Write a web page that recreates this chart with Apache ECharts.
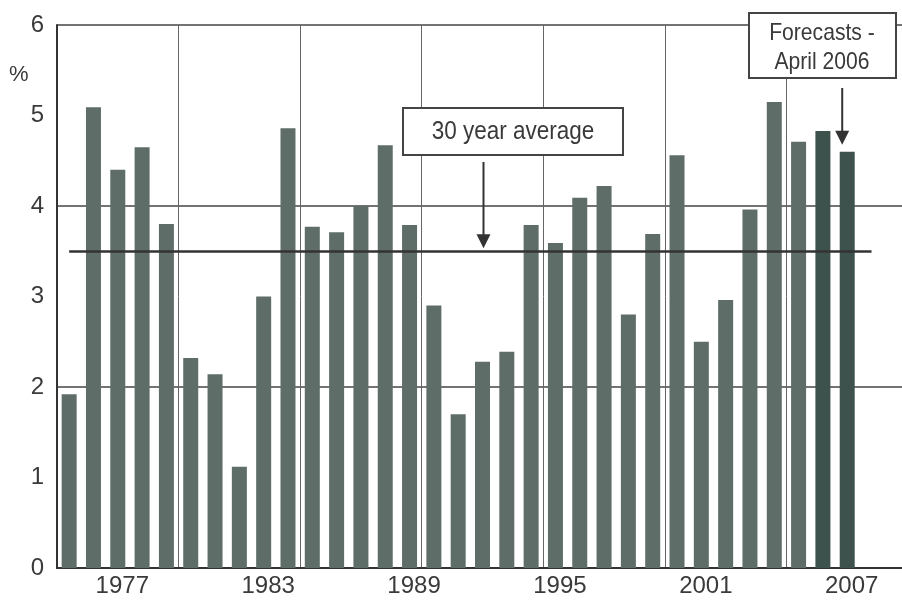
<!DOCTYPE html>
<html>
<head>
<meta charset="utf-8">
<script src="https://cdn.jsdelivr.net/npm/echarts@6/dist/echarts.min.js"></script>
<style>
html,body{margin:0;padding:0;background:#fff;overflow:hidden;}
#chart{width:908px;height:601px;}
</style>
</head>
<body>
<div id="chart"></div>
<script>
// ---- data ----
const years = ['1975','1976','1977','1978','1979','1980','1981','1982','1983','1984',
  '1985','1986','1987','1988','1989','1990','1991','1992','1993','1994',
  '1995','1996','1997','1998','1999','2000','2001','2002','2003','2004',
  '2005','2006','2007','2008','2009'];
const actualValues = [1.92,5.09,4.40,4.65,3.80,2.32,2.14,1.12,3.00,4.86,
  3.77,3.71,4.00,4.67,3.79,2.90,1.70,2.28,2.39,3.79,
  3.59,4.09,4.22,2.80,3.69,4.56,2.50,2.96,3.96,5.15,
  4.71,null,null,null,null];
const forecastValues = [null,null,null,null,null,null,null,null,null,null,
  null,null,null,null,null,null,null,null,null,null,
  null,null,null,null,null,null,null,null,null,null,
  null,4.83,4.60,null,null];
const shownYearLabels = ['1977','1983','1989','1995','2001','2007'];
const gridLineYears = ['1980','1985','1990','1995','2000','2005'];
const yTicks = [0,1,2,3,4,5,6];
const averageValue = 3.5;
const averageFrom = '1975', averageTo = '2008';
const averageArrowYear = '1992';
const forecastArrowYear = '2007';
const unitLabel = '%';
const avgLabel = '30 year average';
const forecastLabel = 'Forecasts -\nApril 2006';

const FONT = "'Liberation Sans Narrow','Arial Narrow','Liberation Sans',sans-serif";
const TXT = '#3a3a3a';
const chart = echarts.init(document.getElementById('chart'), null, {renderer:'canvas'});

const option = {
  animation:false,
  backgroundColor:'#fff',
  grid:{left:57, right:0, top:25, bottom:33, containLabel:false},
  xAxis:{
    type:'category', data:years, boundaryGap:true,
    axisLine:{show:true, lineStyle:{color:'#333', width:2}},
    axisTick:{show:false},
    axisLabel:{
      interval:(i, v)=>shownYearLabels.indexOf(v) >= 0,
      color:TXT, fontFamily:FONT, fontSize:24, margin:6, padding:[0,0,0,9]
    },
    splitLine:{show:true, interval:(i, v)=>gridLineYears.indexOf(v) >= 0,
      lineStyle:{color:'#666', width:1}}
  },
  yAxis:[{
    type:'value', min:yTicks[0], max:yTicks[yTicks.length-1], interval:1,
    axisLine:{show:true, lineStyle:{color:'#333', width:2}},
    axisTick:{show:false},
    axisLabel:{color:TXT, fontFamily:FONT, fontSize:24, margin:13, padding:[3,0,0,0]},
    splitLine:{show:false}
  },{
    type:'value', min:yTicks[0], max:yTicks[yTicks.length-1], interval:2,
    position:'left',
    axisLine:{show:false}, axisTick:{show:false}, axisLabel:{show:false},
    splitLine:{show:true, lineStyle:{color:'#444', width:1.5}}
  }],
  series:[{
    type:'bar', data:actualValues, barWidth:15, barGap:'-100%',
    itemStyle:{color:'#5f6d68'},
    markLine:{
      symbol:'none', silent:true, label:{show:false},
      lineStyle:{color:'#333', width:2.5, type:'solid'},
      data:[[{coord:[averageFrom, averageValue]},{coord:[averageTo, averageValue]}]]
    }
  },{
    type:'bar', data:forecastValues, barWidth:15, barGap:'-100%',
    itemStyle:{color:'#3d524c'}
  }]
};
chart.setOption(option);

function arrow(x, y1, y2){
  return [
    {type:'line', shape:{x1:x, y1:y1, x2:x, y2:y2-12}, style:{stroke:'#333', lineWidth:2}},
    {type:'polygon', shape:{points:[[x-7,y2-14],[x+7,y2-14],[x,y2]]}, style:{fill:'#333'}}
  ];
}
const avgPt = chart.convertToPixel({xAxisIndex:0, yAxisIndex:0}, [averageArrowYear, averageValue]);
const fcPt = chart.convertToPixel({xAxisIndex:0, yAxisIndex:0}, [forecastArrowYear, forecastValues[years.indexOf(forecastArrowYear)]]);

chart.setOption({graphic:[
  {type:'text', left:9, top:64, style:{text:unitLabel, font:'22px '+FONT, fill:TXT}},
  {type:'rect', shape:{x:403, y:108, width:220, height:47}, style:{fill:'#fff', stroke:'#444', lineWidth:2}, z:10},
  {type:'text', x:513, y:132, scaleX:0.9, style:{text:avgLabel, font:'25px '+FONT, fill:TXT, align:'center', verticalAlign:'middle'}, z:11},
  {type:'rect', shape:{x:749, y:13, width:147, height:65}, style:{fill:'#fff', stroke:'#444', lineWidth:2}, z:10},
  {type:'text', x:822, y:48, scaleX:0.88, style:{text:forecastLabel, font:'24px '+FONT, fill:TXT, align:'center', verticalAlign:'middle', lineHeight:29}, z:11},
  ...arrow(avgPt[0]+1, 162, avgPt[1]-3),
  ...arrow(fcPt[0]-5, 88, fcPt[1]-7)
]});
</script>
</body>
</html>
